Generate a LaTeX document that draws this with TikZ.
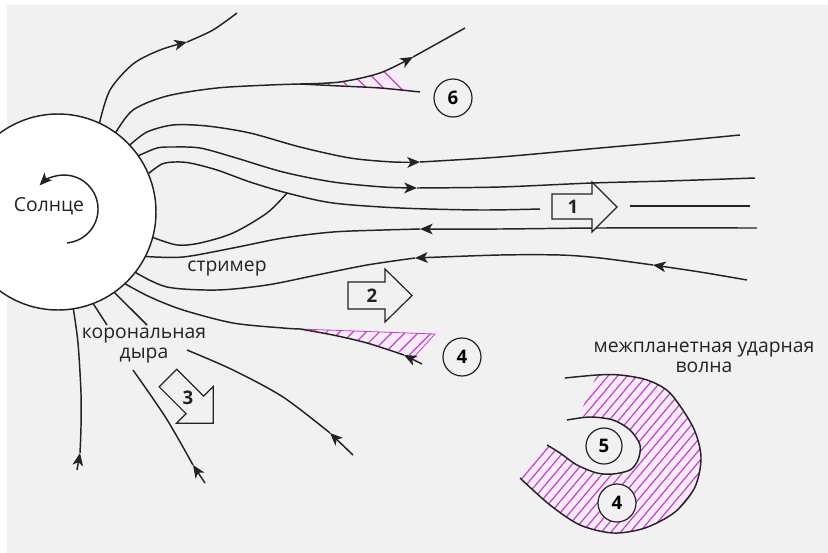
\documentclass[tikz,border=0pt]{standalone}
\usepackage{fontspec}
\setmainfont{Open Sans}
\usetikzlibrary{arrows.meta,patterns.meta}
\definecolor{bgc}{RGB}{241,241,241}
\definecolor{hatchc}{RGB}{200,60,212}
\definecolor{hatchbg}{RGB}{247,236,248}
\definecolor{inkc}{RGB}{35,35,35}

\tikzset{every picture/.style={line width=0.75pt}}
\tikzset{
  fline/.style={draw=inkc, line width=1.1pt},
  farrow/.style={-{Stealth[length=9.5pt,width=8pt,inset=2.5pt]}},
  hatchfill/.style 2 args={preaction={fill=hatchbg}, pattern={Lines[angle=#1,distance=#2,line width=0.9pt]}, pattern color=hatchc},
  numc/.style={circle, draw=inkc, line width=0.9pt, fill=bgc, minimum size=28.5pt, inner sep=0pt, font=\bfseries\fontsize{14}{16}\selectfont},
  blockarr/.style={draw=inkc, line width=0.9pt, fill=bgc, line join=miter},
  lbl/.style={text=inkc, font=\fontsize{14.5}{15}\selectfont, align=center, inner sep=0pt}
}

\begin{document}
\begin{tikzpicture}[x=0.75pt,y=0.75pt,yscale=-1,xscale=1]
    \useasboundingbox (0,0) rectangle (828,553);

    %Shape: Rectangle
    \fill[bgc] (7,5) rectangle (828,553);

    %Shape: hatched tail 6
    \path[hatchfill={-45}{9pt}] (300,84) .. controls (345,83) and (372,77) .. (393,67) -- (414,92) .. controls (380,88) and (340,85) .. cycle;
    %Shape: hatched tail 4
    \path[hatchfill={45}{7pt}] (300,329) -- (435,334) -- (414,357) .. controls (380,345) and (335,333) .. cycle;
    \draw[hatchc, line width=0.6pt] (300,329) -- (435,334) -- (414,357);
    %Shape: hatched shock region
    \path[hatchfill={50}{5.5pt}] plot[smooth] coordinates {(597,375) (620,375) (647,380) (670,393) (693,427) (701,457) (695,487) (675,512) (645,528) (613,533) (580,525) (550,505) (520,478)} -- (547,445)
        -- plot[smooth] coordinates {(547,445) (560,453) (577,465) (597,473) (613,474) (630,470) (638,460) (640,445) (630,430) (613,420) (590,417) (578,418)} -- cycle;

    %Shape: Circle (Sun)
    \node[circle, draw=inkc, line width=1.1pt, fill=white, minimum size=147pt, inner sep=0pt, outer sep=0pt] (sun) at (58,212) {};
    %Curve Lines (rotation)
    \draw[fline, farrow] (67,242.9) arc[start angle=85, end angle=-136, radius=34];

    %Curve Lines A
    \draw[fline, farrow] plot[smooth] coordinates {(sun.65) (110,90) (133,64) (160,50) (187,42)};
    \draw[fline] plot[smooth] coordinates {(187,42) (213,30) (237,13)};
    %Curve Lines B
    \draw[fline] plot[smooth] coordinates {(sun.54) (133,110) (167,96) (217,88) (270,85) (300,84)};
    \draw[fline, farrow] plot[smooth] coordinates {(300,84) (340,82) (380,73) (413,57)};
    \draw[fline] plot[smooth] coordinates {(413,57) (440,42) (465,28)};
    \draw[fline] plot[smooth] coordinates {(300,84) (340,86) (380,88) (420,92)};
    %Curve Lines C
    \draw[fline, farrow] plot[smooth] coordinates {(sun.43) (147,132) (173,125) (207,126) (250,133) (300,147) (350,158) (393,162) (420,162)};
    \draw[fline] plot[smooth] coordinates {(420,162) (500,157) (600,148) (667,142) (740,135)};
    %Curve Lines D
    \draw[fline, farrow] plot[smooth] coordinates {(sun.35) (157,148) (173,147) (200,148) (233,157) (283,172) (333,182) (383,187) (417,188)};
    \draw[fline] plot[smooth] coordinates {(417,188) (500,187) (592,183) (667,181) (755,178)};
    %Curve Lines E
    \draw[fline] plot[smooth] coordinates {(sun.23) (162,164) (175,162) (190,163) (217,170) (250,182) (287,193) (333,203) (400,208) (480,210) (540,209)};
    \draw[fline] (630,206) -- (750,206);
    %Curve Lines (loop)
    \draw[fline] plot[smooth] coordinates {(287,193) (267,213) (233,233) (200,243) (177,245) (sun.-15)};
    %Curve Lines F
    \draw[fline, farrow] plot[smooth] coordinates {(757,228) (600,228) (500,229) (420,229)};
    \draw[fline] plot[smooth] coordinates {(420,229) (383,230) (333,232) (283,238) (233,248) (183,257) (sun.-27)};
    %Curve Lines G
    \draw[fline, farrow] plot[smooth] coordinates {(747,280) (700,272) (653,265)};
    \draw[fline, farrow] plot[smooth] coordinates {(653,265) (600,258) (560,255) (500,255) (415,258)};
    \draw[fline] plot[smooth] coordinates {(415,258) (367,265) (317,275) (267,285) (217,290) (167,287) (sun.-38)};
    %Curve Lines H
    \draw[fline] plot[smooth] coordinates {(sun.-47) (150,297) (183,310) (233,323) (283,328) (300,329)};
    \draw[fline, farrow] (422,364) -- (404,355);
    \draw[fline] plot[smooth] coordinates {(404,355) (367,343) (333,335) (300,329)};
    %Straight Lines (coronal hole)
    \draw[fline] (sun.-55) -- (147,325);
    \draw[fline] (sun.-69) -- (107,325);
    %Curve Lines I
    \draw[fline, farrow] (77,470) -- (80,453);
    \draw[fline] plot[smooth] coordinates {(80,453) (81,427) (81,393) (78,343) (sun.-81)};
    %Curve Lines J
    \draw[fline, farrow] (205,483) -- (193,465);
    \draw[fline] plot[smooth] coordinates {(193,465) (166,418) (133,370)};
    %Curve Lines K
    \draw[fline, farrow] (353,455) -- (330,433);
    \draw[fline] plot[smooth] coordinates {(330,433) (283,397) (233,370) (187,350)};

    %Curve Lines (shock wave)
    \draw[fline] plot[smooth] coordinates {(565,378) (597,375) (620,375) (647,380) (670,393) (693,427) (701,457) (695,487) (675,512) (645,528) (613,533) (580,525) (550,505) (520,478)};
    \draw[fline] plot[smooth] coordinates {(567,420) (590,417) (613,420) (630,430) (640,445) (638,460) (630,470) (613,474) (597,473) (577,465) (560,453) (547,445)};

    %Shape: Block arrows
    \draw[blockarr] (552,194) -- (592,194) -- (592,182) -- (617,207) -- (592,232) -- (592,219) -- (552,219) -- cycle;
    \draw[blockarr] (348,282) -- (385,282) -- (385,269) -- (412,295.5) -- (385,322) -- (385,309) -- (348,309) -- cycle;
    \draw[blockarr] (176.8,369.2) -- (203.7,396.1) -- (213.3,386.5) -- (213.3,423.3) -- (176.5,423.3) -- (186.1,413.7) -- (159.2,386.8) -- cycle;
    \node[text=inkc, font=\bfseries\fontsize{14}{16}\selectfont] (a1) at (573,207) {1};
    \node[text=inkc, font=\bfseries\fontsize{14}{16}\selectfont] (a2) at (372,296) {2};
    \node[text=inkc, font=\bfseries\fontsize{14}{16}\selectfont] (a3) at (188,398) {3};

    %Shape: Circles
    \node[numc] (c6) at (453,98) {6};
    \node[numc] (c4) at (462,357) {4};
    \node[numc, minimum size=27pt] (c5) at (604,446) {5};
    \node[numc] (c4b) at (617,503) {4};

    % Text Node
    \node[lbl] (tsun) at (49,206) {Солнце};
    % Text Node
    \node[lbl] (tstr) at (227,269) {стример};
    % Text Node
    \node[lbl] (thole) at (144,346) {корональная\\дыра};
    % Text Node
    \node[lbl] (tshock) at (704,357) {межпланетная ударная\\волна};
\end{tikzpicture}
\end{document}
